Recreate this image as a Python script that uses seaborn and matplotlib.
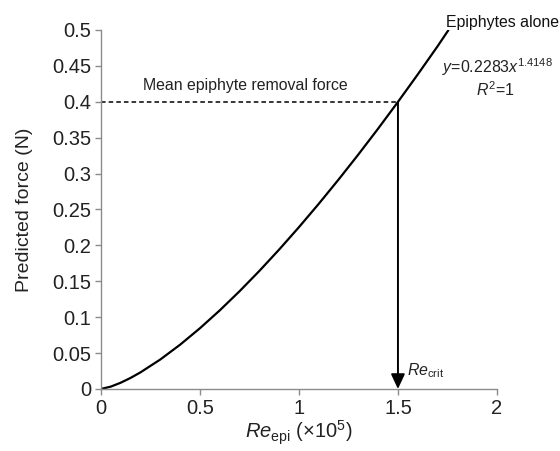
import matplotlib
matplotlib.use("Agg")
import matplotlib.pyplot as plt
import seaborn as sns
import pandas as pd

# Curve values (Re_epi in 1e5, force in N)
re_epi = [0.0, 0.05, 0.1, 0.15, 0.2, 0.3, 0.4, 0.5, 0.6, 0.7, 0.8, 0.9, 1.0,
          1.1, 1.2, 1.3, 1.4, 1.5, 1.6, 1.7, 1.755]
force = [0.0, 0.00325, 0.00867, 0.01539, 0.02311, 0.04101, 0.06162, 0.0845,
         0.10937, 0.13602, 0.16431, 0.1941, 0.2253, 0.25782, 0.2916, 0.32656,
         0.36266, 0.39986, 0.43809, 0.47732, 0.49993]
x_ticks = [0, 0.5, 1, 1.5, 2]
x_tick_labels = ["0", "0.5", "1", "1.5", "2"]
y_ticks = [0, 0.05, 0.1, 0.15, 0.2, 0.25, 0.3, 0.35, 0.4, 0.45, 0.5]
y_tick_labels = ["0", "0.05", "0.1", "0.15", "0.2", "0.25", "0.3", "0.35", "0.4", "0.45", "0.5"]
mean_removal_force = 0.4
re_crit = 1.5

sns.set_theme(style="ticks")
plt.rcParams['font.family'] = ['Liberation Sans', 'DejaVu Sans']
plt.rcParams['mathtext.fontset'] = 'custom'
plt.rcParams['mathtext.rm'] = 'Liberation Sans'
plt.rcParams['mathtext.it'] = 'Liberation Sans:italic'
plt.rcParams['mathtext.bf'] = 'Liberation Sans:bold'

fig = plt.figure(figsize=(5.6, 4.51), dpi=100)
ax = fig.add_axes([0.180, 0.1375, 0.7075, 0.796])

df = pd.DataFrame({"re": re_epi, "force": force})
sns.lineplot(data=df, x="re", y="force", ax=ax, color="black", linewidth=1.6,
             estimator=None, sort=False)

ax.plot([0, re_crit], [mean_removal_force, mean_removal_force], color="black",
        linestyle=(0, (3, 2)), linewidth=1.1)
ax.annotate("", xy=(re_crit, 0), xytext=(re_crit, mean_removal_force),
            arrowprops=dict(arrowstyle="-|>,head_length=0.75,head_width=0.35",
                            color="black", lw=1.4, shrinkA=0, shrinkB=0),
            annotation_clip=False)

ax.set_xlim(0, 2)
ax.set_ylim(0, 0.5)
ax.set_xticks(x_ticks)
ax.set_xticklabels(x_tick_labels)
ax.set_yticks(y_ticks)
ax.set_yticklabels(y_tick_labels)

for s in ["top", "right"]:
    ax.spines[s].set_visible(False)
for s in ["left", "bottom"]:
    ax.spines[s].set_color("#8c8c8c")
    ax.spines[s].set_linewidth(1.0)
ax.tick_params(axis="both", direction="out", length=4, width=1.0, color="#8c8c8c",
               labelsize=14.5, labelcolor="#222222", pad=3)

ax.set_xlabel(r"$\mathit{Re}_{\mathrm{epi}}$ ($\times$10$^{5}$)", fontsize=14.5,
              color="#222222", labelpad=1)
ax.set_ylabel("Predicted force (N)", fontsize=14, color="#222222", labelpad=14)

ax.text(0.73, 0.423, "Mean epiphyte removal force", fontsize=11.4, color="#222222",
        ha="center", va="center")
ax.text(1.745, 0.511, "Epiphytes alone", fontsize=11.4, color="#111111",
        ha="left", va="center", clip_on=False)
ax.text(2.0, 0.448, r"$\mathit{y}$=0.2283$\mathit{x}^{1.4148}$", fontsize=11.4,
        color="#222222", ha="center", va="center")
ax.text(1.99, 0.417, r"$\mathit{R}^{2}$=1", fontsize=11.4, color="#222222",
        ha="center", va="center")
ax.text(1.545, 0.025, r"$\mathit{Re}_{\mathrm{crit}}$", fontsize=11.4,
        color="#222222", ha="left", va="center")

fig.savefig("out.png", dpi=100)
